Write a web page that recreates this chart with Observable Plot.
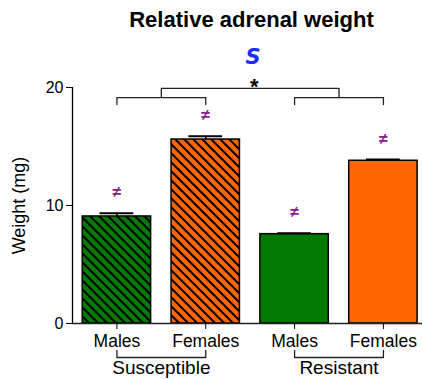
<!DOCTYPE html>
<html>
<head>
<meta charset="utf-8">
<script src="https://cdn.jsdelivr.net/npm/d3@7"></script>
<script src="https://cdn.jsdelivr.net/npm/@observablehq/plot@0.6"></script>
<style>
  body { margin: 0; background: #fff; }
  svg { display: block; }
</style>
</head>
<body>
<div id="chart"></div>
<script>
// Relative adrenal weight by strain and sex (mean ± SEM)
const sexes = ["Males", "Females", "Males", "Females"];
const strains = ["Susceptible", "Susceptible", "Resistant", "Resistant"];
const means = [9.07, 15.59, 7.57, 13.79];
const sems = [0.28, 0.28, 0.08, 0.11];
const hatched = [true, true, false, false];
const groupNames = ["Susceptible", "Resistant"];
const yTicks = [0, 10, 20];
const sexColors = {Males: "#007a00", Females: "#ff6600"};

const rows = sexes.map((sex, i) => ({
  pos: i + 1,
  sex,
  strain: strains[i],
  mean: means[i],
  top: means[i] + sems[i],
  hatched: hatched[i]
}));

const groups = groupNames.map(name => {
  const r = rows.filter(d => d.strain === name);
  const a = r[0].pos, b = r[r.length - 1].pos;
  return {name, a, b, mid: (a + b) / 2};
});

// bracket polyline: legs at a and b, joined by a horizontal bar
function bracket(id, a, b, yEnd, yBar) {
  return [
    {id, x: a, y: yEnd}, {id, x: a, y: yBar},
    {id, x: b, y: yBar}, {id, x: b, y: yEnd}
  ];
}

const halfBar = 0.385;
const halfCap = 0.19;

const sigBrackets = [
  ...groups.flatMap(g => bracket("sig-" + g.name, g.a, g.b, 18.56, 19.15)),
  ...bracket("sig-top", groups[0].mid, groups[1].mid, 19.15, 19.92)
];
const labelBrackets = groups.flatMap(g => bracket("lab-" + g.name, g.a, g.b, -2.29, -2.88));
const centerX = (groups[0].mid + groups[1].mid) / 2;

const font = "'Liberation Sans', Arial, sans-serif";

const chart = Plot.plot({
  width: 422,
  height: 380,
  marginLeft: 72,
  marginRight: 0,
  marginTop: 87,
  marginBottom: 57,
  style: {fontFamily: font, color: "#000", background: "#fff", overflow: "visible"},
  x: {type: "linear", domain: [0.5, 4.44]},
  y: {domain: [0, 20]},
  color: {type: "identity"},
  marks: [
    // bars
    Plot.rectY(rows, {x1: d => d.pos - halfBar, x2: d => d.pos + halfBar, y1: 0, y2: "mean", fill: d => sexColors[d.sex]}),
    Plot.rectY(rows.filter(d => d.hatched), {x1: d => d.pos - halfBar, x2: d => d.pos + halfBar, y1: 0, y2: "mean", fill: "url(#hatch)"}),
    Plot.rectY(rows, {x1: d => d.pos - halfBar, x2: d => d.pos + halfBar, y1: 0, y2: "mean", fill: "none", stroke: "#000", strokeWidth: 1.5}),
    // error bars
    Plot.ruleX(rows, {x: "pos", y1: "mean", y2: "top", stroke: "#000", strokeWidth: 1.5}),
    Plot.ruleY(rows, {y: "top", x1: d => d.pos - halfCap, x2: d => d.pos + halfCap, stroke: "#000", strokeWidth: 2}),
    // sex-difference markers
    Plot.text(rows, {x: "pos", y: "top", text: () => "≠", dy: -21, fill: "#8b1a8b", fontSize: 16, fontWeight: "bold"}),
    // significance brackets
    Plot.line(sigBrackets, {x: "x", y: "y", z: "id", stroke: "#222", strokeWidth: 1.3}),
    Plot.text(["*"], {x: [centerX], y: [19.92], dx: 4, dy: -1, fontSize: 22, fontWeight: "bold", fill: "#000"}),
    Plot.text(["S"], {x: [centerX], y: [20], dx: 3, dy: -30, fontSize: 21, fontStyle: "italic", fontWeight: "bold", fontFamily: "'DejaVu Sans', sans-serif", fill: "#1a2cff"}),
    // axes
    Plot.ruleY([0], {stroke: "#222", strokeWidth: 1.3}),
    Plot.ruleX([0.5], {y1: 0, y2: 20, stroke: "#000", strokeWidth: 1.3}),
    Plot.axisY({ticks: yTicks, tickSize: 6, tickPadding: 3, fontSize: 16, label: null}),
    Plot.axisX({ticks: rows.map(d => d.pos), tickFormat: p => sexes[p - 1], tickSize: 6, tickPadding: 5, fontSize: 17.5, label: null}),
    // strain labels under the sex labels
    Plot.line(labelBrackets, {x: "x", y: "y", z: "id", stroke: "#222", strokeWidth: 1.3}),
    Plot.text(groups, {x: "mid", y: 0, text: "name", dy: 44, fontSize: 19}),
    // axis title and chart title
    Plot.text(["Weight (mg)"], {frameAnchor: "left", textAnchor: "middle", lineAnchor: "middle", rotate: -90, dx: -53, fontSize: 18}),
    Plot.text(["Relative adrenal weight"], {frameAnchor: "top", dx: 4, dy: -76, fontSize: 22, fontWeight: "bold"})
  ]
});

// diagonal hatch used by the susceptible bars
const defs = d3.select(chart).insert("defs", ":first-child");
const pattern = defs.append("pattern")
  .attr("id", "hatch")
  .attr("patternUnits", "userSpaceOnUse")
  .attr("width", 9)
  .attr("height", 9);
pattern.append("path")
  .attr("d", "M0,0L9,9M-3,6L3,12M6,-3L12,3")
  .attr("stroke", "#000")
  .attr("stroke-width", 2);

document.getElementById("chart").appendChild(chart);
</script>
</body>
</html>
